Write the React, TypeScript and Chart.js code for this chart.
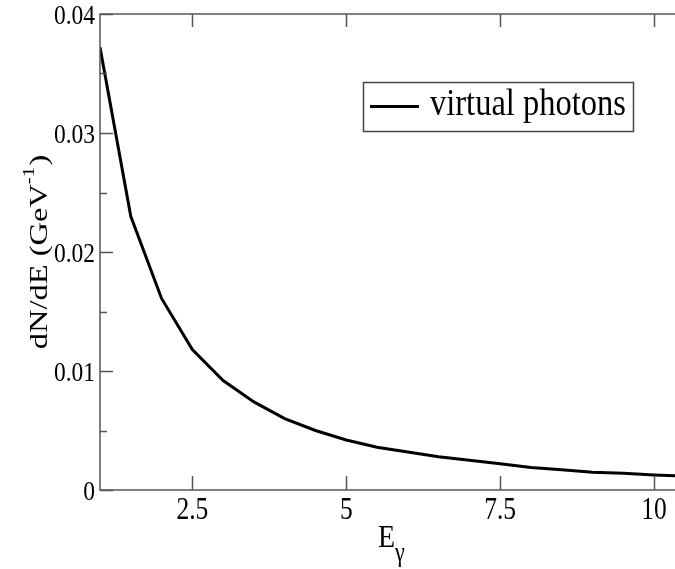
import React, { useEffect, useRef } from "react";
import { Chart, registerables } from "chart.js";

Chart.register(...registerables);

const energies = [1, 1.5, 2, 2.5, 3, 3.5, 4, 4.5, 5, 5.5, 6, 6.5, 7, 7.5, 8, 8.5, 9, 9.5, 10, 10.5];
const dNdE = [0.0372, 0.023, 0.0161, 0.0118, 0.0092, 0.0074, 0.006, 0.005, 0.0042, 0.0036, 0.0032, 0.0028, 0.0025, 0.0022, 0.0019, 0.0017, 0.0015, 0.0014, 0.00127, 0.00116];
const xMajorTicks = [2.5, 5, 7.5, 10];
const xTickLabels = ["2.5", "5", "7.5", "10"];
const yMajorTicks = [0, 0.01, 0.02, 0.03, 0.04];
const yTickLabels = ["0", "0.01", "0.02", "0.03", "0.04"];
const yMinorTicks = [0.005, 0.015, 0.025, 0.035];
const seriesLabel = "virtual photons";
const xTitle = "E";
const xTitleSub = "γ";
const yTitleMain = "dN/dE (GeV";
const yTitleSup = "-1";
const yTitleEnd = ")";

const FONT = "'Liberation Serif', 'Times New Roman', serif";
const AXIS_COLOR = "#555";

function stretchText(
  ctx: CanvasRenderingContext2D,
  text: string,
  x: number,
  y: number,
  size: number,
  sy: number,
  align: CanvasTextAlign
) {
  ctx.save();
  ctx.translate(x, y);
  ctx.scale(1, sy);
  ctx.font = `${size}px ${FONT}`;
  ctx.textAlign = align;
  ctx.textBaseline = "alphabetic";
  ctx.fillStyle = "#000";
  ctx.fillText(text, 0, 0);
  ctx.restore();
}

const framePlugin = {
  id: "framePlugin",
  afterDatasetsDraw(chart: any) {
    const ctx: CanvasRenderingContext2D = chart.ctx;
    const { left, right, top, bottom } = chart.chartArea;
    const xs = chart.scales.x;
    const ys = chart.scales.y;
    ctx.save();
    ctx.strokeStyle = AXIS_COLOR;
    ctx.lineWidth = 1.5;
    ctx.beginPath();
    ctx.moveTo(right + 2, top);
    ctx.lineTo(left, top);
    ctx.lineTo(left, bottom);
    ctx.lineTo(right + 2, bottom);
    ctx.stroke();
    ctx.beginPath();
    xMajorTicks.forEach((v) => {
      const px = Math.round(xs.getPixelForValue(v)) + 0.5;
      ctx.moveTo(px, bottom);
      ctx.lineTo(px, bottom - 14);
      ctx.moveTo(px, top);
      ctx.lineTo(px, top + 13);
    });
    yMajorTicks.forEach((v) => {
      const py = Math.round(ys.getPixelForValue(v)) + 0.5;
      ctx.moveTo(left, py);
      ctx.lineTo(left + 13, py);
    });
    yMinorTicks.forEach((v) => {
      const py = Math.round(ys.getPixelForValue(v)) + 0.5;
      ctx.moveTo(left, py);
      ctx.lineTo(left + 7, py);
    });
    ctx.stroke();
    ctx.restore();

    xMajorTicks.forEach((v, i) => {
      const px = xs.getPixelForValue(v);
      stretchText(ctx, xTickLabels[i], px, bottom + 29, 25.5, 1.2, "center");
    });
    yMajorTicks.forEach((v, i) => {
      const py = ys.getPixelForValue(v);
      stretchText(ctx, yTickLabels[i], 95, py + 9.5, 23.5, 1.15, "right");
    });

    ctx.save();
    ctx.font = `28px ${FONT}`;
    const eW = ctx.measureText(xTitle).width;
    ctx.restore();
    stretchText(ctx, xTitle, 378, 547, 28, 1.1, "left");
    stretchText(ctx, xTitleSub, 378 + eW, 561, 22, 1.2, "left");

    ctx.save();
    const mainSize = 25;
    const supSize = 16;
    const stretchAlong = 1.3;
    ctx.font = `${mainSize}px ${FONT}`;
    const w1 = ctx.measureText(yTitleMain).width;
    const w3 = ctx.measureText(yTitleEnd).width;
    ctx.font = `${supSize}px ${FONT}`;
    const w2 = ctx.measureText(yTitleSup).width;
    const total = (w1 + w2 + w3 + 1) * stretchAlong;
    ctx.translate(47, (top + bottom) / 2);
    ctx.rotate(-Math.PI / 2);
    ctx.scale(stretchAlong, 1);
    ctx.fillStyle = "#000";
    ctx.textBaseline = "alphabetic";
    ctx.textAlign = "left";
    let x0 = -total / stretchAlong / 2;
    ctx.font = `${mainSize}px ${FONT}`;
    ctx.fillText(yTitleMain, x0, 0);
    x0 += w1;
    ctx.font = `${supSize}px ${FONT}`;
    ctx.fillText(yTitleSup, x0, -13);
    x0 += w2 + 1;
    ctx.font = `${mainSize}px ${FONT}`;
    ctx.fillText(yTitleEnd, x0, 0);
    ctx.restore();

    ctx.save();
    ctx.strokeStyle = "#444";
    ctx.lineWidth = 1.5;
    ctx.strokeRect(363.5, 82.5, 270, 49);
    ctx.strokeStyle = "#000";
    ctx.lineWidth = 3;
    ctx.beginPath();
    ctx.moveTo(370, 106.5);
    ctx.lineTo(419, 106.5);
    ctx.stroke();
    ctx.restore();
    stretchText(ctx, seriesLabel, 430, 115, 32.5, 1.16, "left");
  },
};

export default function App() {
  const ref = useRef<HTMLCanvasElement | null>(null);
  useEffect(() => {
    if (!ref.current) return;
    const chart = new Chart(ref.current, {
      type: "line",
      data: {
        datasets: [
          {
            label: seriesLabel,
            data: energies.map((e, i) => ({ x: e, y: dNdE[i] })),
            borderColor: "#000",
            borderWidth: 3,
            pointRadius: 0,
            tension: 0,
            fill: false,
          },
        ],
      },
      options: {
        animation: false,
        responsive: true,
        maintainAspectRatio: false,
        layout: { padding: { top: 14, right: 0, left: 0, bottom: 0 } },
        plugins: { legend: { display: false }, tooltip: { enabled: false } },
        scales: {
          x: {
            type: "linear",
            min: 1,
            max: 10.34,
            grid: { display: false, drawTicks: false },
            border: { display: false },
            ticks: { display: false },
            afterFit: (s: any) => {
              s.height = 79;
            },
          },
          y: {
            type: "linear",
            min: 0,
            max: 0.04,
            grid: { display: false, drawTicks: false },
            border: { display: false },
            ticks: { display: false },
            afterFit: (s: any) => {
              s.width = 100;
            },
          },
        },
      },
      plugins: [framePlugin],
    });
    return () => chart.destroy();
  }, []);
  return (
    <div style={{ position: "fixed", left: 0, top: 0, width: 675, height: 569, background: "#fff" }}>
      <canvas ref={ref} />
    </div>
  );
}
